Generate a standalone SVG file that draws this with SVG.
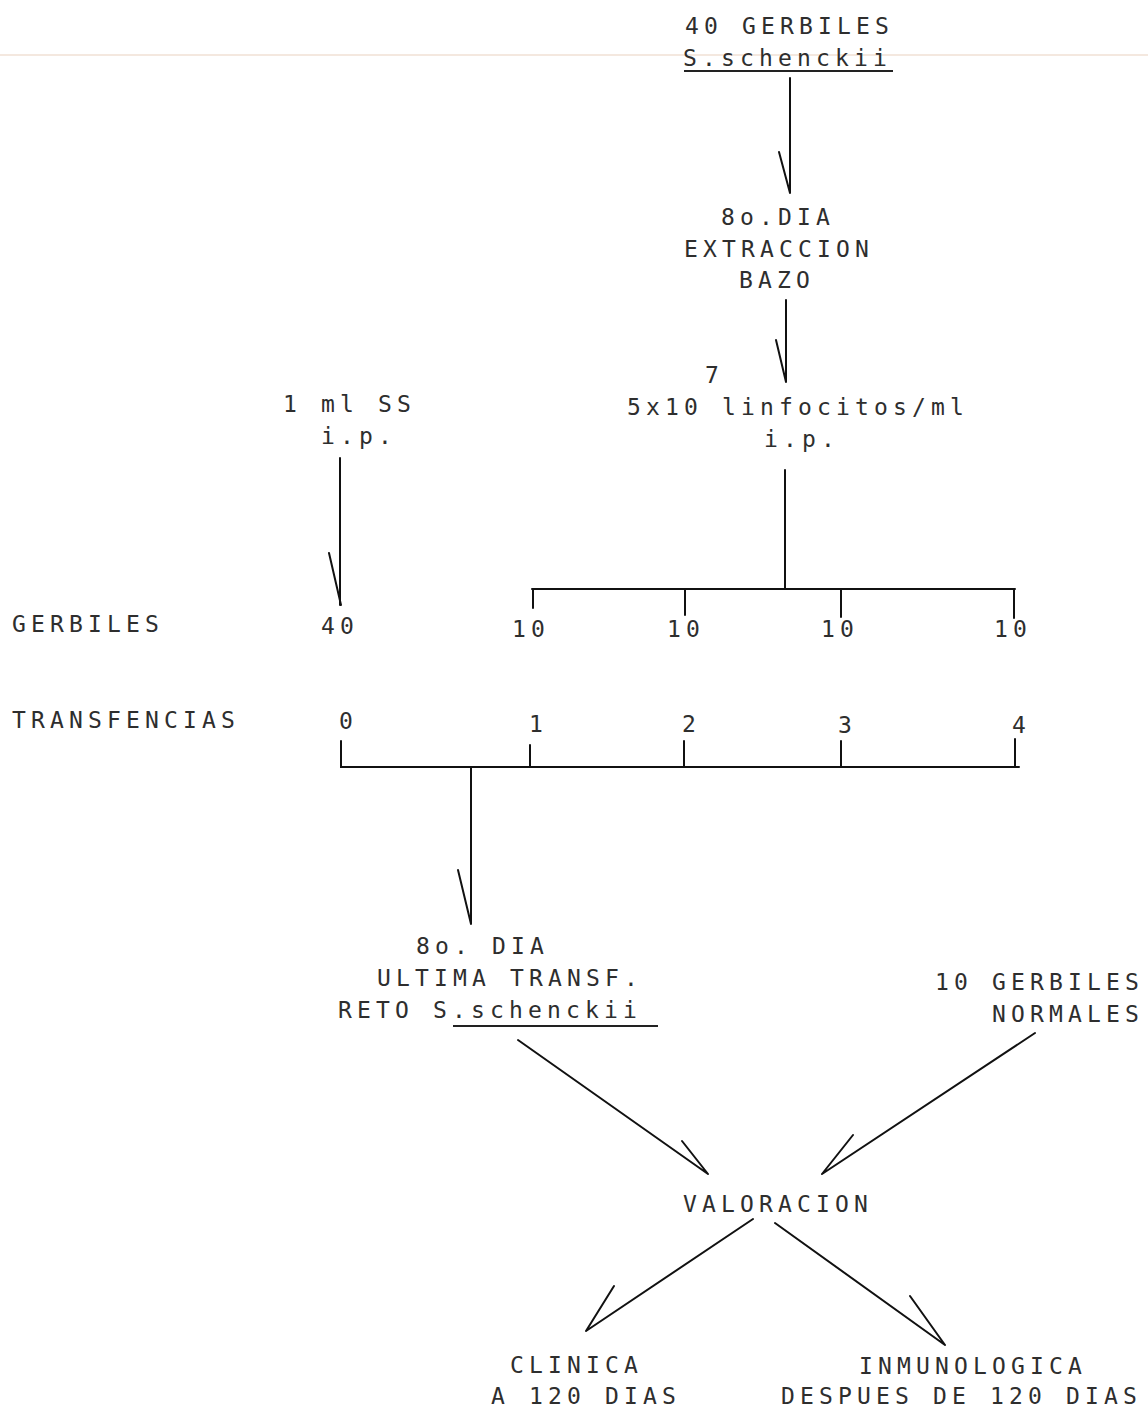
<svg xmlns="http://www.w3.org/2000/svg" width="1148" height="1411" viewBox="0 0 1148 1411">
<style>
text{font-family:"DejaVu Sans Mono","Liberation Mono",monospace;font-size:23px;letter-spacing:5.15px;fill:#2e2e2e}
.ln{stroke:#111;stroke-width:2;fill:none;stroke-linecap:round}
.ul{stroke:#222;stroke-width:2}
</style>
<rect width="1148" height="1411" fill="#ffffff"/>
<line x1="0" y1="55" x2="1148" y2="55" stroke="#f4e8df" stroke-width="2"/>
<g id="n-gerbiles-infectados">
<text x="685" y="34">40 GERBILES</text>
<text x="683" y="66">S.schenckii</text>
<line class="ul" x1="684" y1="71" x2="893" y2="71"/>
</g>
<g id="n-extraccion">
<text x="721" y="225">8o.DIA</text>
<text x="684" y="257">EXTRACCION</text>
<text x="739" y="288">BAZO</text>
</g>
<g id="n-linfocitos">
<text x="705" y="383">7</text>
<text x="627" y="415">5x10  linfocitos/ml</text>
<text x="764" y="447">i.p.</text>
</g>
<g id="n-ss">
<text x="283" y="412">1 ml SS</text>
<text x="321" y="444">i.p.</text>
</g>
<g id="n-label-gerbiles"><text x="12" y="632">GERBILES</text></g>
<g id="n-label-transf"><text x="12" y="728">TRANSFENCIAS</text></g>
<g id="n-g40"><text x="321" y="634">40</text></g>
<g id="n-g10a"><text x="512" y="637">10</text></g>
<g id="n-g10b"><text x="667" y="637">10</text></g>
<g id="n-g10c"><text x="821" y="637">10</text></g>
<g id="n-g10d"><text x="994" y="637">10</text></g>
<g id="n-t0"><text x="339" y="729">0</text></g>
<g id="n-t1"><text x="529" y="732">1</text></g>
<g id="n-t2"><text x="682" y="732">2</text></g>
<g id="n-t3"><text x="838" y="733">3</text></g>
<g id="n-t4"><text x="1012" y="733">4</text></g>
<g id="n-reto">
<text x="416" y="954">8o. DIA</text>
<text x="377" y="986">ULTIMA TRANSF.</text>
<text x="338" y="1018">RETO  S.schenckii</text>
<line class="ul" x1="453" y1="1026" x2="658" y2="1026"/>
</g>
<g id="n-normales">
<text x="935" y="990">10 GERBILES</text>
<text x="992" y="1022">NORMALES</text>
</g>
<g id="n-valoracion"><text x="683" y="1212">VALORACION</text></g>
<g id="n-clinica">
<text x="510" y="1373">CLINICA</text>
<text x="491" y="1404">A 120 DIAS</text>
</g>
<g id="n-inmunologica">
<text x="859" y="1374">INMUNOLOGICA</text>
<text x="781" y="1404">DESPUES DE 120 DIAS</text>
</g>
<g id="connectors">
<path class="ln" d="M790 78 L790 193 M779 152 L790 193"/>
<path class="ln" d="M786 300 L786 382 M776 340 L786 382"/>
<path class="ln" d="M340 458 L340 605 M329 553 L341 605"/>
<path class="ln" d="M785 470 L785 589 M532 589 L1015 589 M533 589 L533 608 M685 589 L685 615 M841 589 L841 617 M1014 589 L1014 618"/>
<path class="ln" d="M341 741 L341 767 L1019 767 M530 745 L530 767 M684 741 L684 767 M841 741 L841 767 M1015 739 L1015 767"/>
<path class="ln" d="M471 767 L471 924 M458 870 L471 924"/>
<path class="ln" d="M518 1040 L708 1174 M682 1141 L708 1174"/>
<path class="ln" d="M1035 1033 L822 1174 M853 1135 L822 1174"/>
<path class="ln" d="M753 1219 L586 1331 M614 1286 L586 1331"/>
<path class="ln" d="M775 1223 L945 1345 M910 1296 L945 1345"/>
</g>
</svg>
